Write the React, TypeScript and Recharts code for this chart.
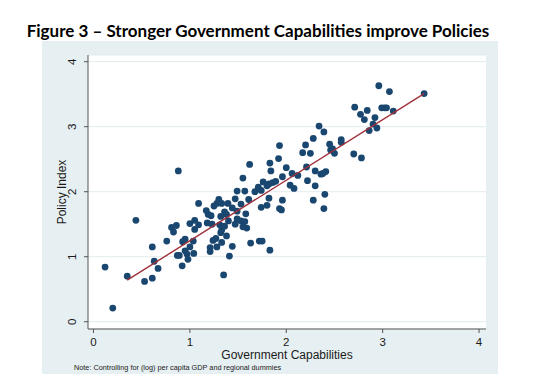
import { CartesianGrid, Label, Scatter, ScatterChart, XAxis, YAxis } from "recharts"

// Government Capabilities (x) and Policy Index (y)
const govCapabilities = [
  0.12, 0.2, 0.35, 0.88,
  0.44, 0.53, 0.61, 0.61, 0.63, 0.67, 0.76, 0.81, 0.86, 0.83,
  0.87, 0.89, 0.92, 0.925, 0.95, 0.95, 0.97, 0.98, 1.0, 1.0,
  1.05, 1.05, 1.035, 1.04, 1.09, 1.09, 1.17, 1.19, 1.22, 1.18,
  1.23, 1.21, 1.21, 1.24, 1.27, 1.28, 1.25, 1.28, 1.3, 1.33,
  1.32, 1.36, 1.38, 1.395, 1.31, 1.32, 1.33, 1.36, 1.38, 1.33,
  1.35, 1.41, 1.4, 1.44, 1.44, 1.47, 1.49, 1.49, 1.49, 1.47,
  1.53, 1.57, 1.53, 1.57, 1.55, 1.59, 1.58, 1.61, 1.675, 1.71,
  1.63, 1.72, 1.62, 1.55,
  2.34, 2.39, 2.28, 2.45, 2.46, 2.48, 2.5, 1.93, 2.2, 2.17,
  2.25, 1.83, 1.92, 1.84, 2.0, 2.21, 2.3, 2.36, 2.38, 2.41,
  2.06, 2.12, 1.96, 2.22, 1.76, 1.82, 1.86, 1.89, 1.8, 2.04,
  2.08, 2.3, 2.4, 1.82, 1.96, 2.28, 1.74, 1.8, 1.93, 1.95,
  2.39, 1.75, 1.83, 1.74,
  2.57, 2.57, 2.7, 2.78, 2.71, 2.77, 2.84, 2.81, 2.86, 2.9,
  2.94, 2.92, 2.96, 2.99, 3.02, 3.04, 3.07, 3.11, 3.43,
]

const policyIndex = [
  0.84, 0.21, 0.7, 2.32,
  1.56, 0.62, 0.67, 1.15, 0.93, 0.82, 1.24, 1.45, 1.48, 1.38,
  1.02, 1.02, 0.86, 1.23, 1.27, 1.09, 1.04, 0.96, 1.15, 1.51,
  1.56, 1.42, 1.24, 1.05, 1.82, 1.49, 1.71, 1.65, 1.63, 1.52,
  1.5, 1.14, 1.08, 1.25, 1.28, 1.15, 1.78, 1.82, 1.88, 1.82,
  1.62, 1.69, 1.65, 1.82, 1.49, 1.37, 1.41, 1.47, 1.32, 1.22,
  0.72, 1.01, 1.55, 1.16, 1.75, 1.89, 2.01, 1.7, 1.58, 1.5,
  1.81, 2.01, 1.55, 1.54, 1.46, 1.44, 1.66, 1.88, 2.0, 2.07,
  1.21, 1.24, 2.42, 2.21,
  3.01, 2.92, 2.82, 2.73, 2.64, 2.66, 2.59, 2.71, 2.72, 2.6,
  2.59, 2.44, 2.51, 2.32, 2.37, 2.38, 2.32, 2.27, 2.28, 2.31,
  2.28, 2.25, 2.23, 2.17, 2.15, 2.12, 2.14, 2.16, 2.09, 2.1,
  2.05, 2.09, 1.96, 1.9, 1.87, 1.87, 1.76, 1.79, 1.74, 1.72,
  1.74, 1.24, 1.1, 2.02,
  2.8, 2.76, 2.58, 2.52, 3.3, 3.19, 3.25, 3.11, 2.94, 3.04,
  2.98, 3.14, 3.63, 3.29, 3.29, 3.29, 3.54, 3.24, 3.51,
]

// fitted line end points
const fitX = [0.35, 3.43]
const fitY = [0.64, 3.51]

const axisTicks = [0, 1, 2, 3, 4]

const points = govCapabilities.map((x, i) => ({ x, y: policyIndex[i] }))
const fitLine = fitX.map((x, i) => ({ x, y: fitY[i] }))

const NAVY = "#1A476F"
const MAROON = "#A0303A"
const BG = "#E6EFF1"
const AXIS = "#555"
const FONT = "'Liberation Sans', Arial, sans-serif"

const Dot = (props: any) => <circle cx={props.cx} cy={props.cy} r={3.4} fill={NAVY} />
const NoDot = () => <g />

const YTick = (props: any) => {
  const { x, y, payload } = props
  return (
    <text
      x={x}
      y={y}
      transform={`rotate(-90, ${x}, ${y})`}
      textAnchor="middle"
      dominantBaseline="central"
      fontSize={11.5}
      fontFamily={FONT}
      fill="#1a1a1a"
    >
      {payload.value}
    </text>
  )
}

const YLabel = (props: any) => {
  const { x, y, height } = props.viewBox
  const cx = x + 18
  const cy = y + height / 2
  return (
    <text
      x={cx}
      y={cy}
      transform={`rotate(-90, ${cx}, ${cy})`}
      textAnchor="middle"
      fontSize={12}
      fontFamily={FONT}
      fill="#1a1a1a"
    >
      Policy Index
    </text>
  )
}

export default function App() {
  return (
    <div style={{ position: "absolute", left: 0, top: 0, width: 543, height: 388, background: "#fff" }}>
      <svg width={543} height={388} style={{ position: "absolute", left: 0, top: 0 }}>
        <rect x={42} y={41} width={456} height={333} fill={BG} />
      </svg>
      <div style={{ position: "absolute", left: 0, top: 0 }}>
        <ScatterChart width={543} height={388} margin={{ top: 55, right: 57, left: 48, bottom: 29 }}>
          <CartesianGrid vertical={false} stroke="#E2EBED" fill="#fff" />
          <XAxis
            type="number"
            dataKey="x"
            domain={[-0.057, 4.072]}
            ticks={axisTicks}
            allowDataOverflow
            height={30}
            tickSize={4}
            tickMargin={5}
            stroke={AXIS}
            tick={{ fontSize: 11.5, fontFamily: FONT, fill: "#1a1a1a" }}
          >
            <Label
              value="Government Capabilities"
              position="insideBottom"
              offset={0}
              fontSize={12}
              fontFamily={FONT}
              fill="#1a1a1a"
            />
          </XAxis>
          <YAxis
            type="number"
            dataKey="y"
            domain={[-0.112, 4.103]}
            ticks={axisTicks}
            allowDataOverflow
            width={40}
            tickSize={4}
            tickMargin={12}
            stroke={AXIS}
            tick={<YTick />}
          >
            <Label content={<YLabel />} />
          </YAxis>
          <Scatter data={points} shape={<Dot />} isAnimationActive={false} />
          <Scatter
            data={fitLine}
            line={{ stroke: MAROON, strokeWidth: 1.4 }}
            shape={<NoDot />}
            isAnimationActive={false}
          />
        </ScatterChart>
      </div>
      <svg width={543} height={388} style={{ position: "absolute", left: 0, top: 0, pointerEvents: "none" }}>
        <text x={258} y={37} textAnchor="middle" fontSize={17} fontWeight={700} fontFamily="Lato, sans-serif" fill="#000">
          Figure 3 – Stronger Government Capabilities improve Policies
        </text>
        <text x={74} y={370} fontSize={7.3} fontFamily={FONT} fill="#1a1a1a">
          Note: Controlling for (log) per capita GDP and regional dummies
        </text>
      </svg>
    </div>
  )
}
